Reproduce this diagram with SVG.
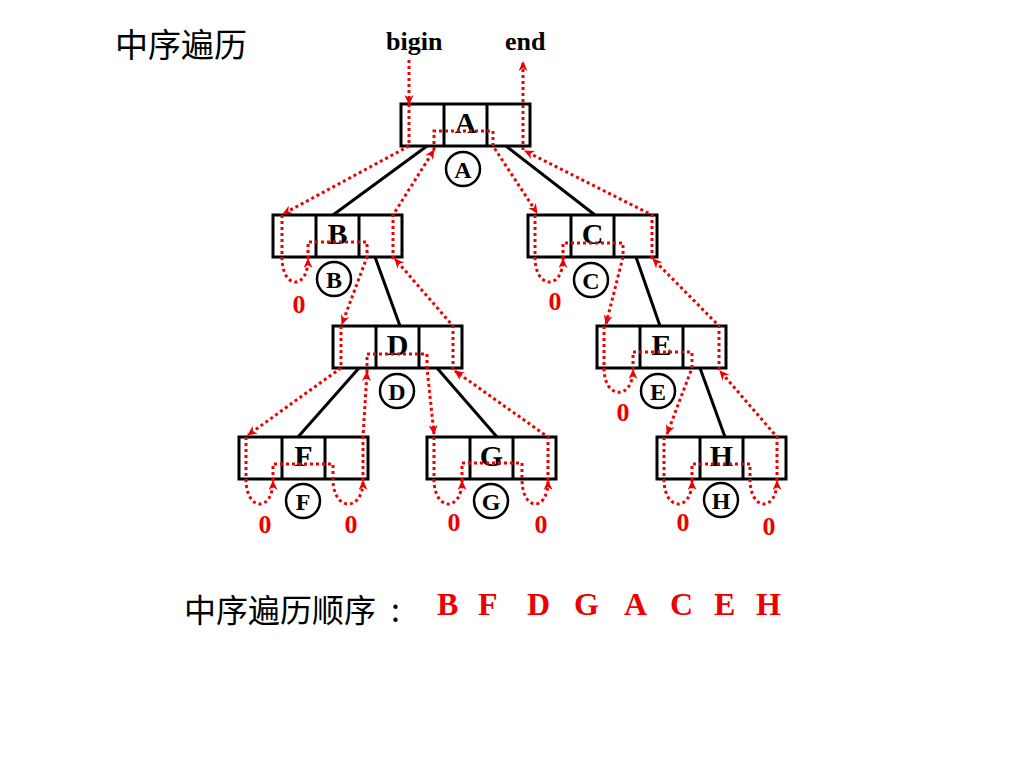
<svg xmlns="http://www.w3.org/2000/svg" width="1024" height="768" viewBox="0 0 1024 768">
<style>
.box{fill:none;stroke:#000;stroke-width:3}
.edge{stroke:#000;stroke-width:3;fill:none}
.circ{fill:#fff;stroke:#000;stroke-width:2.5}
.lbl{font-family:"Liberation Serif","Times New Roman",serif;font-weight:bold;font-size:30px;text-anchor:middle;fill:#000}
.clbl{font-family:"Liberation Serif","Times New Roman",serif;font-weight:bold;font-size:24px;text-anchor:middle;fill:#000}
.zero{font-family:"Liberation Serif","Times New Roman",serif;font-weight:bold;font-size:26px;text-anchor:middle;fill:#e00}
.trav{fill:none;stroke:#e00;stroke-width:3;stroke-dasharray:3 3;marker-end:url(#ah)}
.cjk{font-family:"Noto Sans CJK SC","Noto Sans",sans-serif;fill:#000}
.seq{font-family:"Liberation Serif","Times New Roman",serif;font-weight:bold;font-size:32px;fill:#e00}
.ptr{font-family:"Liberation Serif","Times New Roman",serif;font-weight:bold;font-size:26px;fill:#000}
</style>
<defs>
<marker id="ah" markerUnits="userSpaceOnUse" markerWidth="12" markerHeight="12" refX="9" refY="4.5" orient="auto">
<path d="M0,0 L10,4.5 L0,9 L3,4.5 Z" fill="#e00"/>
</marker>
</defs>
<rect width="1024" height="768" fill="#fff"/>

<text class="cjk" x="115" y="57" font-size="33">中序遍历</text>
<text class="ptr" x="386" y="50">bigin</text>
<text class="ptr" x="505" y="50">end</text>

<g id="tree-edges">
<line class="edge" x1="427" y1="146" x2="333" y2="215"/>
<line class="edge" x1="506" y1="146" x2="595" y2="215"/>
<line class="edge" x1="375" y1="257" x2="400" y2="326"/>
<line class="edge" x1="636" y1="257" x2="660" y2="326"/>
<line class="edge" x1="359" y1="368" x2="298" y2="437"/>
<line class="edge" x1="437" y1="368" x2="497" y2="437"/>
<line class="edge" x1="700" y1="368" x2="725" y2="437"/>
</g>

<g id="node-A">
<rect class="box" x="401" y="104" width="129" height="42"/>
<line class="edge" x1="444" y1="104" x2="444" y2="146"/>
<line class="edge" x1="487" y1="104" x2="487" y2="146"/>
<text class="lbl" x="465.5" y="133">A</text>
<circle class="circ" cx="463" cy="169" r="17"/>
<text class="clbl" x="463" y="177.5">A</text>
</g>
<g id="node-B">
<rect class="box" x="273" y="215" width="129" height="42"/>
<line class="edge" x1="316" y1="215" x2="316" y2="257"/>
<line class="edge" x1="359" y1="215" x2="359" y2="257"/>
<text class="lbl" x="337.5" y="244">B</text>
<circle class="circ" cx="334" cy="279" r="17"/>
<text class="clbl" x="334" y="287.5">B</text>
</g>
<g id="node-C">
<rect class="box" x="528" y="215" width="129" height="42"/>
<line class="edge" x1="571" y1="215" x2="571" y2="257"/>
<line class="edge" x1="614" y1="215" x2="614" y2="257"/>
<text class="lbl" x="592.5" y="244">C</text>
<circle class="circ" cx="591" cy="280" r="17"/>
<text class="clbl" x="591" y="288.5">C</text>
</g>
<g id="node-D">
<rect class="box" x="333" y="326" width="129" height="42"/>
<line class="edge" x1="376" y1="326" x2="376" y2="368"/>
<line class="edge" x1="419" y1="326" x2="419" y2="368"/>
<text class="lbl" x="397.5" y="355">D</text>
<circle class="circ" cx="397" cy="391" r="17"/>
<text class="clbl" x="397" y="399.5">D</text>
</g>
<g id="node-E">
<rect class="box" x="597" y="326" width="129" height="42"/>
<line class="edge" x1="640" y1="326" x2="640" y2="368"/>
<line class="edge" x1="683" y1="326" x2="683" y2="368"/>
<text class="lbl" x="661.5" y="355">E</text>
<circle class="circ" cx="658" cy="391" r="17"/>
<text class="clbl" x="658" y="399.5">E</text>
</g>
<g id="node-F">
<rect class="box" x="239" y="437" width="129" height="42"/>
<line class="edge" x1="282" y1="437" x2="282" y2="479"/>
<line class="edge" x1="325" y1="437" x2="325" y2="479"/>
<text class="lbl" x="303.5" y="466">F</text>
<circle class="circ" cx="303" cy="501" r="17"/>
<text class="clbl" x="303" y="509.5">F</text>
</g>
<g id="node-G">
<rect class="box" x="427" y="437" width="129" height="42"/>
<line class="edge" x1="470" y1="437" x2="470" y2="479"/>
<line class="edge" x1="513" y1="437" x2="513" y2="479"/>
<text class="lbl" x="491.5" y="466">G</text>
<circle class="circ" cx="491" cy="501" r="17"/>
<text class="clbl" x="491" y="509.5">G</text>
</g>
<g id="node-H">
<rect class="box" x="657" y="437" width="129" height="42"/>
<line class="edge" x1="700" y1="437" x2="700" y2="479"/>
<line class="edge" x1="743" y1="437" x2="743" y2="479"/>
<text class="lbl" x="721.5" y="466">H</text>
<circle class="circ" cx="721" cy="500" r="17"/>
<text class="clbl" x="721" y="508.5">H</text>
</g>

<g id="traversal">
<path class="trav" d="M409,60 V104"/>
<path class="trav" d="M409,104 V146 L283,214"/>
<path class="trav" d="M282,215 V257 C282,290 308,290 308,259"/>
<path class="trav" d="M308,259 V242 H367 V257 L342,324"/>
<path class="trav" d="M341,326 V368 L248,435"/>
<path class="trav" d="M246,437 V479 C246,512 273,512 273,481"/>
<path class="trav" d="M273,481 V464 H333 V479 C333,512 363,512 363,481"/>
<path class="trav" d="M363,481 V437 L367,372"/>
<path class="trav" d="M367,372 V354 H427 V368 L434,434"/>
<path class="trav" d="M434,437 V479 C434,512 462,512 462,481"/>
<path class="trav" d="M462,481 V463 H522 V479 C522,512 548,512 548,481"/>
<path class="trav" d="M548,481 V437 L455,371"/>
<path class="trav" d="M453,370 V326 L395,259"/>
<path class="trav" d="M393,259 V215 L434,150"/>
<path class="trav" d="M434,150 V131 H493 V146 L537,213"/>
<path class="trav" d="M535,215 V257 C535,290 563,290 563,259"/>
<path class="trav" d="M563,259 V243 H623 V257 L606,324"/>
<path class="trav" d="M604,326 V368 C604,400 633,400 633,370"/>
<path class="trav" d="M633,370 V352 H692 V368 L667,434"/>
<path class="trav" d="M664,437 V479 C664,512 692,512 692,481"/>
<path class="trav" d="M692,481 V464 H750 V479 C750,512 777,512 777,481"/>
<path class="trav" d="M777,481 V437 L720,371"/>
<path class="trav" d="M719,370 V326 L653,259"/>
<path class="trav" d="M652,259 V215 L525,151"/>
<path class="trav" d="M523,150 V62"/>
</g>

<g id="null-labels">
<text class="zero" x="299" y="313">0</text>
<text class="zero" x="555" y="310">0</text>
<text class="zero" x="623" y="421">0</text>
<text class="zero" x="265" y="533">0</text>
<text class="zero" x="351" y="533">0</text>
<text class="zero" x="454" y="531">0</text>
<text class="zero" x="541" y="533">0</text>
<text class="zero" x="683" y="531">0</text>
<text class="zero" x="769" y="535">0</text>
</g>

<text class="cjk" x="184" y="622" font-size="32">中序遍历顺序<tspan x="391">:</tspan></text>
<g id="sequence">
<text class="seq" x="437" y="615">B</text>
<text class="seq" x="478" y="615">F</text>
<text class="seq" x="527" y="615">D</text>
<text class="seq" x="574" y="615">G</text>
<text class="seq" x="624" y="615">A</text>
<text class="seq" x="670" y="615">C</text>
<text class="seq" x="714" y="615">E</text>
<text class="seq" x="756" y="615">H</text>
</g>
</svg>
